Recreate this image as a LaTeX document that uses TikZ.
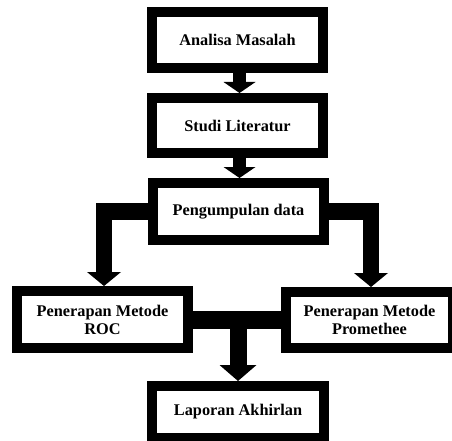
\documentclass[tikz,border=0pt]{standalone}
\usepackage{fontspec}
\setmainfont{Liberation Serif}
\usetikzlibrary{arrows.meta,calc}
\begin{document}
\begin{tikzpicture}[x=1pt,y=-1pt,
  box/.style={draw=black, fill=white, line width=10pt, align=center, inner sep=0pt,
    font=\bfseries\fontsize{16.3}{18}\selectfont},
  conn/.style={draw=black, line cap=butt, line join=miter},
  tipS/.style={-{Triangle[width=32pt,length=11pt,line width=0pt]}},
  tipM/.style={-{Triangle[width=34pt,length=14pt,line width=0pt]}},
  tipL/.style={-{Triangle[width=37pt,length=16pt,line width=0pt]}}]
\useasboundingbox (0,0) rectangle (452,441);
\fill[white] (0,0) rectangle (452,441);

\node[box, minimum width=171pt, minimum height=56pt] (b1) at (237.5,40) {Analisa Masalah};
\node[box, minimum width=171pt, minimum height=55pt] (b2) at (237.5,125.5) {Studi Literatur};
\node[box, minimum width=171pt, minimum height=57pt] (b3) at (238.5,211.5) {Pengumpulan data};
\node[box, minimum width=171pt, minimum height=57pt] (b4) at (102.5,319.5) {Penerapan Metode\\ROC};
\node[box, minimum width=167pt, minimum height=56pt] (b5) at (369.5,320) {Penerapan Metode\\Promethee};
\node[box, minimum width=172pt, minimum height=52pt] (b6) at (238,412) {Laporan Akhirlan};

\draw[conn, line width=13pt, tipS] ([xshift=2pt]b1.south) -- ([xshift=2pt]b2.north);
\draw[conn, line width=13pt, tipS] ([xshift=2pt]b2.south) -- ([xshift=1pt]b3.north);

\draw[conn, line width=16.5pt, tipM] (b3.west) -| ([xshift=1.5pt]b4.north);
\draw[conn, line width=16.5pt, tipM] (b3.east) -| ([xshift=1.5pt]b5.north);

\draw[conn, line width=18pt] (b4.east) -- (b4.east -| b5.west);
\draw[conn, line width=17pt, tipL] (b4.east -| b6.north) -- (b6.north);
\end{tikzpicture}
\end{document}
